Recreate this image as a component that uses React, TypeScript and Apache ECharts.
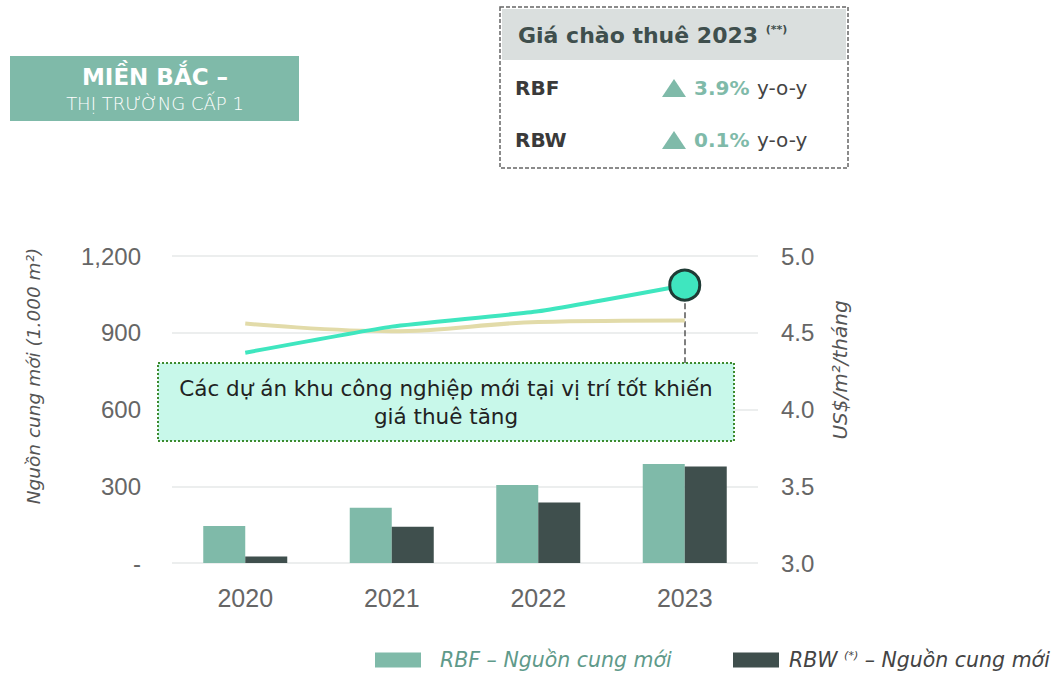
import React, { useEffect, useRef } from "react";
import * as echarts from "echarts";

// ---- data ----
const years = ["2020", "2021", "2022", "2023"];
const rbfSupply = [145, 216, 305, 387]; // 1.000 m2
const rbwSupply = [25, 142, 236, 377]; // 1.000 m2
const rbfRent = [4.37, 4.54, 4.64, 4.81]; // US$/m2/tháng
const rbwRent = [4.56, 4.51, 4.57, 4.58]; // US$/m2/tháng
const supplyTicks = { min: 0, max: 1200, interval: 300 };
const rentTicks = { min: 3.0, max: 5.0, interval: 0.5 };
const calloutBottom = 4.3;

const rbfName = "RBF – Nguồn cung mới";
const rbwName = "RBW (*) – Nguồn cung mới";

const FONT = '"DejaVu Sans", "Noto Sans", sans-serif';
const TICKFONT = '"Liberation Sans", Arial, sans-serif';
const TEAL = "#7fbaa9";
const DARK = "#3f4f4d";

export default function App() {
  const ref = useRef<HTMLDivElement>(null);
  useEffect(() => {
    if (!ref.current) return;
    const chart = echarts.init(ref.current, undefined, { renderer: "svg" });
    const option: any = {
      animation: false,
      backgroundColor: "#ffffff",
      textStyle: { fontFamily: FONT },
      grid: { left: 172, right: 298, top: 256, bottom: 111 },
      legend: [
        {
          data: [{ name: rbfName }],
          left: 370,
          top: 645,
          icon: "rect",
          itemWidth: 46,
          itemHeight: 15,
          textStyle: {
            color: "#5f9a8a",
            fontStyle: "italic",
            fontSize: 20.5,
            fontFamily: FONT,
            padding: [0, 0, 0, 14],
          },
          selectedMode: false,
        },
        {
          data: [{ name: rbwName }],
          left: 728,
          top: 645,
          icon: "rect",
          itemWidth: 46,
          itemHeight: 15,
          formatter: () => "{a|RBW }{s|(*)}{a| – Nguồn cung mới}",
          textStyle: {
            padding: [0, 0, 0, 5],
            rich: {
              a: { fontSize: 20.5, fontStyle: "italic", color: "#444", fontFamily: FONT },
              s: {
                fontSize: 11,
                fontStyle: "italic",
                color: "#444",
                fontFamily: FONT,
                verticalAlign: "top",
              },
            },
          },
          selectedMode: false,
        },
      ],
      xAxis: {
        type: "category",
        data: years,
        axisLine: { show: false },
        axisTick: { show: false },
        axisLabel: { color: "#666", fontSize: 25, margin: 22, fontFamily: TICKFONT },
      },
      yAxis: [
        {
          type: "value",
          ...supplyTicks,
          position: "left",
          axisLine: { show: false },
          axisTick: { show: false },
          splitLine: { lineStyle: { color: "#e6e8e8", width: 1.5 } },
          axisLabel: {
            color: "#666",
            fontSize: 24,
            margin: 31,
            fontFamily: TICKFONT,
            formatter: (v: number) => (v === 0 ? "-" : v.toLocaleString("en-US")),
          },
        },
        {
          type: "value",
          ...rentTicks,
          position: "right",
          axisLine: { show: false },
          axisTick: { show: false },
          splitLine: { show: false },
          axisLabel: {
            color: "#666",
            fontSize: 24,
            margin: 23,
            fontFamily: TICKFONT,
            formatter: (v: number) => v.toFixed(1),
          },
        },
      ],
      series: [
        {
          name: rbfName,
          type: "bar",
          data: rbfSupply,
          barWidth: 42,
          barGap: "0%",
          itemStyle: { color: TEAL },
          yAxisIndex: 0,
        },
        {
          name: rbwName,
          type: "bar",
          data: rbwSupply,
          barWidth: 42,
          barGap: "0%",
          itemStyle: { color: DARK },
          yAxisIndex: 0,
        },
        {
          name: "RBW – Giá thuê",
          type: "line",
          yAxisIndex: 1,
          data: rbwRent,
          smooth: 0.4,
          symbol: "none",
          lineStyle: { color: "#e2dba9", width: 4 },
          z: 3,
        },
        {
          name: "RBF – Giá thuê",
          type: "line",
          yAxisIndex: 1,
          smooth: 0.15,
          symbol: "none",
          data: rbfRent.map((v, i) =>
            i === rbfRent.length - 1
              ? {
                  value: v,
                  symbol: "circle",
                  symbolSize: 30,
                  itemStyle: { color: "#3fe6bf", borderColor: "#1f3b35", borderWidth: 3 },
                }
              : v
          ),
          lineStyle: { color: "#3fe6bf", width: 4 },
          z: 4,
          markLine: {
            silent: true,
            symbol: ["none", "none"],
            label: { show: false },
            lineStyle: { type: "dashed", color: "#555", width: 1.5 },
            data: [
              [
                { coord: [years[years.length - 1], rbfRent[rbfRent.length - 1]] },
                { coord: [years[years.length - 1], calloutBottom] },
              ],
            ],
            z: 2,
          },
        },
      ],
      graphic: [
        // axis names
        {
          type: "text",
          x: 33,
          y: 376,
          rotation: Math.PI / 2,
          style: {
            text: "Nguồn cung mới (1.000 m²)",
            fill: "#555",
            fontSize: 18.5,
            fontStyle: "italic",
            fontFamily: FONT,
            align: "center",
            verticalAlign: "middle",
          },
        },
        {
          type: "text",
          x: 840,
          y: 370,
          rotation: Math.PI / 2,
          style: {
            text: "US$/m²/tháng",
            fill: "#555",
            fontSize: 20,
            fontStyle: "italic",
            fontFamily: FONT,
            align: "center",
            verticalAlign: "middle",
          },
        },
        // title box
        { type: "rect", shape: { x: 10, y: 56, width: 289, height: 65 }, style: { fill: TEAL }, silent: true },
        {
          type: "text",
          x: 155,
          y: 77,
          style: {
            text: "MIỀN BẮC –",
            fill: "#ffffff",
            fontSize: 23,
            fontWeight: "bold",
            fontFamily: FONT,
            align: "center",
            verticalAlign: "middle",
          },
        },
        {
          type: "text",
          x: 155,
          y: 103,
          style: {
            text: "THỊ TRƯỜNG CẤP 1",
            fill: "#ffffff",
            fontSize: 18,
            fontWeight: 200,
            fontFamily: FONT,
            align: "center",
            verticalAlign: "middle",
          },
        },
        // price box
        {
          type: "rect",
          shape: { x: 500, y: 7, width: 348, height: 161 },
          style: { fill: "#ffffff", stroke: "#666", lineWidth: 1.5, lineDash: [4, 2] },
          silent: true,
        },
        { type: "rect", shape: { x: 502, y: 9, width: 344, height: 51 }, style: { fill: "#dadfde" }, silent: true },
        {
          type: "text",
          x: 518,
          y: 35,
          style: {
            text: "{a|Giá chào thuê 2023 }{s|(**)}",
            verticalAlign: "middle",
            align: "left",
            rich: {
              a: { fontSize: 22, fontWeight: "bold", fill: "#3f4f4d", fontFamily: FONT },
              s: { fontSize: 11, fontWeight: "bold", fill: "#3f4f4d", fontFamily: FONT, verticalAlign: "top" },
            },
          },
        },
        {
          type: "text",
          x: 515,
          y: 88,
          style: { text: "RBF", fontSize: 20, fontWeight: "bold", fill: "#3a3a3a", fontFamily: FONT, verticalAlign: "middle" },
        },
        {
          type: "polygon",
          shape: { points: [[662, 97], [674, 79], [686, 97]] },
          style: { fill: TEAL },
        },
        {
          type: "text",
          x: 694,
          y: 88,
          style: { text: "3.9%", fontSize: 20, fontWeight: "bold", fill: TEAL, fontFamily: FONT, verticalAlign: "middle" },
        },
        {
          type: "text",
          x: 757,
          y: 88,
          style: { text: "y-o-y", fontSize: 20, fill: "#444", fontFamily: FONT, verticalAlign: "middle" },
        },
        {
          type: "text",
          x: 515,
          y: 140,
          style: { text: "RBW", fontSize: 20, fontWeight: "bold", fill: "#3a3a3a", fontFamily: FONT, verticalAlign: "middle" },
        },
        {
          type: "polygon",
          shape: { points: [[662, 149], [674, 131], [686, 149]] },
          style: { fill: TEAL },
        },
        {
          type: "text",
          x: 694,
          y: 140,
          style: { text: "0.1%", fontSize: 20, fontWeight: "bold", fill: TEAL, fontFamily: FONT, verticalAlign: "middle" },
        },
        {
          type: "text",
          x: 757,
          y: 140,
          style: { text: "y-o-y", fontSize: 20, fill: "#444", fontFamily: FONT, verticalAlign: "middle" },
        },
        // callout
        {
          type: "rect",
          z: 10,
          shape: { x: 158, y: 363, width: 576, height: 78 },
          style: { fill: "#c8f8ea", stroke: "#3d8a2e", lineWidth: 2, lineDash: [2, 2] },
          silent: true,
        },
        {
          type: "text",
          z: 11,
          x: 446,
          y: 402,
          style: {
            text: "Các dự án khu công nghiệp mới tại vị trí tốt khiến\ngiá thuê tăng",
            fontSize: 21.5,
            lineHeight: 28,
            fill: "#222",
            fontFamily: FONT,
            align: "center",
            verticalAlign: "middle",
          },
        },
      ],
    };
    chart.setOption(option);
    return () => chart.dispose();
  }, []);
  return (
    <div
      ref={ref}
      style={{ position: "fixed", left: 0, top: 0, width: 1056, height: 674, background: "#fff" }}
    />
  );
}
